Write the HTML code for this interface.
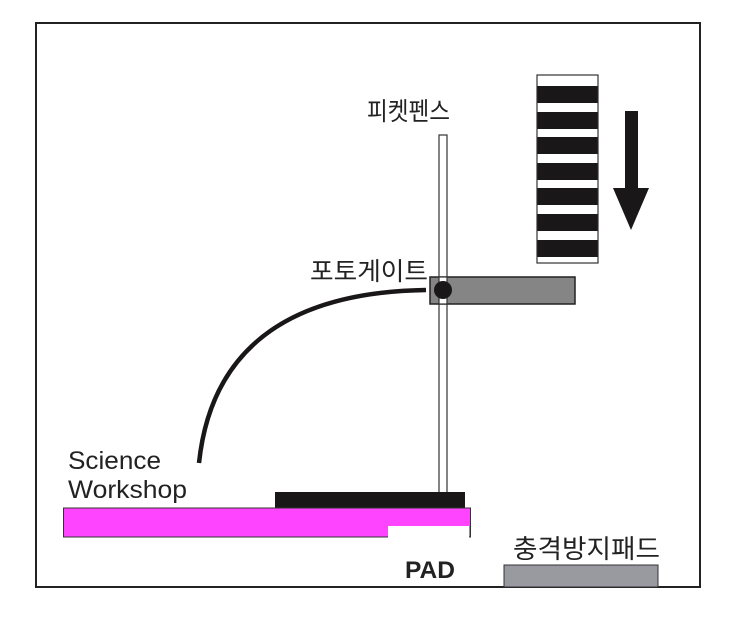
<!DOCTYPE html>
<html><head><meta charset="utf-8"><style>
html,body{margin:0;padding:0;background:#fff;}
</style></head><body>
<svg width="743" height="615" viewBox="0 0 743 615" xmlns="http://www.w3.org/2000/svg">
<rect x="36" y="23" width="664" height="564" fill="#fff" stroke="#222" stroke-width="2"/>
<rect x="537" y="75" width="61" height="188" fill="#fff" stroke="#333" stroke-width="1.2"/>
<g fill="#1a1718">
<rect x="537.5" y="86" width="60" height="17"/>
<rect x="537.5" y="112" width="60" height="17"/>
<rect x="537.5" y="137" width="60" height="17"/>
<rect x="537.5" y="163" width="60" height="17"/>
<rect x="537.5" y="188" width="60" height="17"/>
<rect x="537.5" y="214" width="60" height="17"/>
<rect x="537.5" y="240" width="60" height="17"/>
</g>
<polygon points="625,111 638,111 638,188 649,188 631,230 613,188 625,188" fill="#1a1718"/>
<rect x="439" y="135" width="8" height="358" fill="#fff" stroke="#333" stroke-width="1.2"/>
<rect x="430" y="277" width="145" height="27" fill="#858585" stroke="#222" stroke-width="1.5"/>
<rect x="439" y="277" width="8" height="27" fill="#fff" stroke="#333" stroke-width="1.2"/>
<circle cx="443" cy="290" r="9" fill="#1a1718"/>
<path d="M426,290 C300,292 212,340 199,463" fill="none" stroke="#1a1718" stroke-width="4.5"/>
<rect x="275" y="492" width="190" height="16" fill="#1a1718"/>
<rect x="63.5" y="508" width="407" height="29" fill="#ff44ff" stroke="#333" stroke-width="1"/>
<rect x="388" y="526" width="81" height="13" fill="#fff"/>
<rect x="504" y="565" width="154" height="22" fill="#999aa0" stroke="#333" stroke-width="1"/>
<g font-family="Liberation Sans, Noto Sans CJK KR, sans-serif" fill="#222">
<text x="367" y="120" font-size="25" textLength="83" lengthAdjust="spacingAndGlyphs">피켓펜스</text>
<text x="310" y="280" font-size="25" textLength="118" lengthAdjust="spacingAndGlyphs">포토게이트</text>
<text x="68" y="469" font-size="25" textLength="93" lengthAdjust="spacingAndGlyphs">Science</text>
<text x="68" y="498" font-size="25" textLength="119" lengthAdjust="spacingAndGlyphs">Workshop</text>
<text x="513" y="558" font-size="26" textLength="147" lengthAdjust="spacingAndGlyphs">충격방지패드</text>
<text x="405" y="578" font-size="24" font-weight="bold" textLength="50" lengthAdjust="spacingAndGlyphs">PAD</text>
</g>
</svg>
</body></html>
